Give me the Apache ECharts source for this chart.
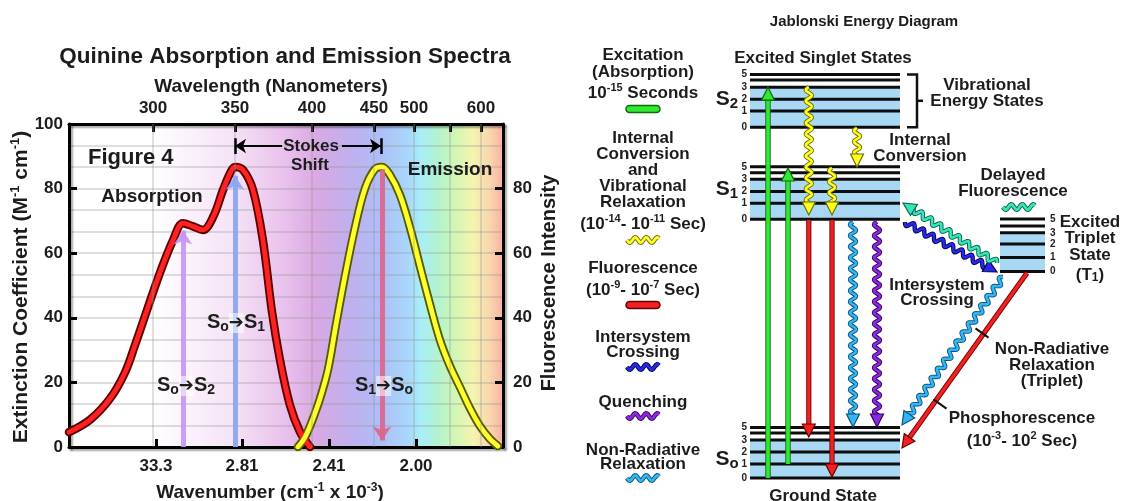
<!DOCTYPE html>
<html><head><meta charset="utf-8">
<script src="https://cdn.jsdelivr.net/npm/echarts@6/dist/echarts.min.js"></script>
<style>html,body{margin:0;padding:0;background:#fff}#c{width:1122px;height:501px}</style>
</head><body><div id="c"></div>
<script>
// ================= DATA =================
// Left chart: x = wavenumber (x10^3 cm^-1), y = extinction / fluorescence
const absorptionWn = [37.75,36.68,35.65,34.89,34.37,33.76,33.10,32.43,31.92,31.41,30.90,30.38,29.87,29.51,29.26,28.85,28.34,27.83,27.37,26.96,26.45,25.93,25.42];
const absorptionVal = [4.6,8.4,15,23,31.6,42.4,53.9,64,69.3,68.3,67.2,71.2,79.6,84.8,86.7,85.8,79.6,64,42,27,13,4.6,0];
const emissionWn = [26.04,25.68,25.32,24.91,24.50,24.09,23.63,23.12,22.61,22.10,21.74,21.33,20.82,20.31,19.80,19.28,18.77,18.26,17.75,17.24,16.73,16.22,15.81];
const emissionVal = [0,3,8,15,24,38,53,68,80,86,86.7,84.2,78,68,56,44,33,25,18.5,12,6.5,2.5,0.3];
const bottomTickValues = [33.3, 28.9, 24.45, 20.0];
const bottomTickLabels = ['33.3','2.81','2.41','2.00'];
const topTickValues = [33.45, 29.26, 25.32, 22.15, 20.10, 18.26, 16.68];
const topTickLabels = ['300','350','400','450','500','','600'];
const transitionArrows = [[31.92, 0, 67], [29.26, 0, 84], [21.74, 86, 2]]; // [wn, from, to]
const stokesShift = [29.26, 21.79];
// Jablonski diagram: x = lane (0-100), y = energy (arbitrary units)
const vibLabels = ['0','1','2','3','','5'];
const s0Levels = [0,3.5,6.5,9.5,11.25,12.6];
const s1Levels = [64.7,68.7,71.6,74.7,76.3,77.8];
const s2Levels = [87.7,91.75,94.7,97.7,99.5,100.9];
const t1Levels = [51.6,55.1,58.5,61.3,63,64.75];
const absorptionJ = [[12,0,12,97.7],[17,3.5,17,77.5]];
const vibRelaxJ = [[22.2,97.7,22.2,65.75],[28,77.5,28,65.75],[34.25,87.5,34.25,77.75]];
const fluorescenceJ = [[22.2,64.5,22.2,10.25],[28,64.5,28,0.25]];
const nonRadiativeJ = [[33.25,64,33.25,12.75],[70.75,50.25,45.5,13.25]];
const quenchingJ = [[39.25,64,39.25,12.75]];
const iscJ = [[46.25,64,69.25,51.5]];
const delayedFluorJ = [[69.25,53.75,45.75,68.75]];
const phosphorescenceJ = [[76.75,51.25,45.5,7.5]];

// ================= HELPERS =================
const FF = '"Liberation Sans", Arial, Helvetica, sans-serif';
const TXT = '#1c1c1c';
function nearestLabel(vals, labels, v){let bi=0,bd=1e9;vals.forEach((t,i)=>{const d=Math.abs(t-v);if(d<bd){bd=d;bi=i;}});return labels[bi];}
function richSet(size){
  const s=Math.round(size*0.62);
  return {
    n:{fontSize:size,fontWeight:'bold',fontFamily:FF,fill:TXT,lineHeight:size+2,verticalAlign:'bottom'},
    sup:{fontSize:s,fontWeight:'bold',fontFamily:FF,fill:TXT,lineHeight:s,verticalAlign:'top'},
    S:{fontSize:size,fontWeight:'bold',fontFamily:FF,fill:TXT,lineHeight:size+2,verticalAlign:'top'},
    sub:{fontSize:Math.round(size*0.72),fontWeight:'bold',fontFamily:FF,fill:TXT,lineHeight:Math.round(size*0.5),verticalAlign:'bottom'},
    ar:{fontSize:Math.round(size*0.9),fontWeight:'bold',fontFamily:'"DejaVu Sans", sans-serif',fill:TXT,lineHeight:size,verticalAlign:'middle',backgroundColor:'rgba(255,255,255,0.55)',padding:[1,0,1,0]}
  };
}
function T(text,x,y,size,opt){
  opt=opt||{};
  const el={type:'text',x,y,z:100,silent:true,rotation:opt.rotation||0,
    style:{text,font:`bold ${size}px ${FF}`,fill:TXT,align:opt.align||'center',verticalAlign:'middle'}};
  if(opt.rich) el.style.rich=richSet(size);
  return el;
}
function wavePts(x0,y0,x1,y1,amp,wl){
  const dx=x1-x0,dy=y1-y0,L=Math.hypot(dx,dy),ux=dx/L,uy=dy/L,nx=-uy,ny=ux,pts=[];
  for(let s=0;s<=L;s+=1){const o=amp*Math.sin(2*Math.PI*s/wl);pts.push([x0+ux*s+nx*o,y0+uy*s+ny*o]);}
  return pts;
}
function arrowShape(p0,p1,color,dark,wavy,w){
  const dx=p1[0]-p0[0],dy=p1[1]-p0[1],L=Math.hypot(dx,dy),ux=dx/L,uy=dy/L,nx=-uy,ny=ux;
  const hl=13,hw=6.5,bl=L-hl+2;
  const bx=p0[0]+ux*bl,by=p0[1]+uy*bl;
  const pts=wavy?wavePts(p0[0],p0[1],bx,by,3,11):[[p0[0],p0[1]],[bx,by]];
  const hb=[p0[0]+ux*(L-hl),p0[1]+uy*(L-hl)];
  return [
    {type:'polyline',shape:{points:pts},style:{stroke:dark,lineWidth:w+1.8,fill:null,lineJoin:'round'}},
    {type:'polyline',shape:{points:pts},style:{stroke:color,lineWidth:w,fill:null,lineJoin:'round'}},
    {type:'polygon',shape:{points:[[p1[0],p1[1]],[hb[0]+nx*hw,hb[1]+ny*hw],[hb[0]-nx*hw,hb[1]-ny*hw]]},style:{fill:color,stroke:dark,lineWidth:1.2}}
  ];
}
function iconWave(cx,cy,color,dark){
  const pts=wavePts(cx-16,cy,cx+16,cy,2.6,11);
  return {type:'group',z:100,silent:true,children:[
    {type:'polyline',shape:{points:pts},style:{stroke:dark,lineWidth:4.6,fill:null}},
    {type:'polyline',shape:{points:pts},style:{stroke:color,lineWidth:2.8,fill:null}}]};
}
function iconBar(cx,cy,color,dark){
  return {type:'rect',z:100,silent:true,shape:{x:cx-17,y:cy-3.5,width:34,height:7,r:3.5},style:{fill:color,stroke:dark,lineWidth:1.5}};
}

const states=[
  {levels:s2Levels,x0:7.5,x1:45,side:'left',bracket:true},
  {levels:s1Levels,x0:7.5,x1:45,side:'left'},
  {levels:s0Levels,x0:7.5,x1:45,side:'left'},
  {levels:t1Levels,x0:70,x1:81.25,side:'right'}
];
const kinds=[
  {data:absorptionJ,color:'#33e833',dark:'#0b6b0b',wavy:false,w:3.6},
  {data:vibRelaxJ,color:'#ffff22',dark:'#6e6e00',wavy:true,w:2.6},
  {data:fluorescenceJ,color:'#f22020',dark:'#6a0000',wavy:false,w:3.4},
  {data:nonRadiativeJ,color:'#33b6f2',dark:'#0d4f7a',wavy:true,w:2.6},
  {data:quenchingJ,color:'#8a2be2',dark:'#33005e',wavy:true,w:2.6},
  {data:iscJ,color:'#2828e8',dark:'#000050',wavy:true,w:2.6},
  {data:delayedFluorJ,color:'#33e8b8',dark:'#0c5e48',wavy:true,w:2.6},
  {data:phosphorescenceJ,color:'#f22020',dark:'#6a0000',wavy:false,w:3.4}
];

const axisLineStyle={color:'#000',width:3,shadowColor:'rgba(0,0,0,0.35)',shadowOffsetX:2,shadowOffsetY:2,shadowBlur:2};
const tickStyle={show:true,inside:true,length:8,lineStyle:{color:'#000',width:3}};
const gridLine={color:'rgba(150,150,150,0.3)',width:2};
const labelStyle={color:TXT,fontSize:17,fontWeight:'bold',fontFamily:FF};

// ================= SERIES =================
const series=[];
series.push({type:'line',xAxisIndex:0,yAxisIndex:0,data:[],z:1,silent:true,
  markLine:{silent:true,symbol:'none',animation:false,label:{show:false},lineStyle:Object.assign({type:'solid'},gridLine),
    data:topTickValues.map(v=>({xAxis:v}))}});
const arrowColors=['rgba(196,150,246,0.9)','rgba(140,168,242,0.95)','rgba(222,100,140,0.9)'];
const mlData=transitionArrows.map((a,i)=>[
  {coord:[a[0],a[1]],symbol:'none',lineStyle:{color:arrowColors[i],width:5,type:'solid'}},
  {coord:[a[0],a[2]],symbol:'arrow',symbolSize:14}]);
const sy=93.2;
mlData.push([{coord:[stokesShift[0],sy],symbol:'arrow',symbolSize:11,lineStyle:{color:'#000',width:2,type:'solid'}},{coord:[26.85,sy],symbol:'none'}]);
mlData.push([{coord:[23.79,sy],symbol:'none',lineStyle:{color:'#000',width:2,type:'solid'}},{coord:[stokesShift[1],sy],symbol:'arrow',symbolSize:11}]);
stokesShift.forEach(v=>mlData.push([{coord:[v,90.7],symbol:'none',lineStyle:{color:'#000',width:2.5,type:'solid'}},{coord:[v,95.6],symbol:'none'}]));
series.push({type:'line',xAxisIndex:0,yAxisIndex:0,data:[],z:2,silent:true,
  markLine:{silent:true,animation:false,label:{show:false},data:mlData}});
function curve(wn,val,color,width,z){
  return {type:'line',xAxisIndex:0,yAxisIndex:0,data:wn.map((x,i)=>[x,val[i]]),smooth:0.35,showSymbol:false,silent:true,z,
    lineStyle:{color,width,cap:'round',join:'round'}};
}
series.push(curve(absorptionWn,absorptionVal,'#5e0000',8.5,3));
series.push(curve(absorptionWn,absorptionVal,'#ff2222',4.8,4));
series.push(curve(emissionWn,emissionVal,'#5a5a00',8.5,3));
series.push(curve(emissionWn,emissionVal,'#ffff2e',4.8,4));

// Jablonski levels
series.push({type:'custom',xAxisIndex:2,yAxisIndex:2,coordinateSystem:'cartesian2d',clip:false,silent:true,z:5,
  data:states.map(s=>[s.x0,s.levels[0]]),
  renderItem:function(params,api){
    const st=states[params.dataIndex],ch=[];
    const a=api.coord([st.x0,st.levels[0]]),b=api.coord([st.x1,st.levels[3]]);
    ch.push({type:'rect',shape:{x:a[0],y:b[1],width:b[0]-a[0],height:a[1]-b[1]},style:{fill:'#a8d8f4'}});
    st.levels.forEach((e,i)=>{
      const p=api.coord([st.x0,e]),q=api.coord([st.x1,e]);
      ch.push({type:'line',shape:{x1:p[0],y1:p[1],x2:q[0],y2:q[1]},style:{stroke:'#0d0d0d',lineWidth:3}});
      if(vibLabels[i]) ch.push({type:'text',x:st.side==='left'?p[0]-3:q[0]+5,y:p[1],
        style:{text:vibLabels[i],font:`bold 10px ${FF}`,fill:'#222',align:st.side==='left'?'right':'left',verticalAlign:'middle'}});
    });
    if(st.bracket){
      const t=api.coord([st.x1,st.levels[5]]),bt=api.coord([st.x1,st.levels[0]]);
      const xb=t[0]+17,mid=(t[1]+bt[1])/2;
      ch.push({type:'polyline',shape:{points:[[t[0]+7,t[1]],[xb,t[1]],[xb,bt[1]],[t[0]+7,bt[1]]]},style:{stroke:'#111',lineWidth:2.5,fill:null}});
      ch.push({type:'line',shape:{x1:xb,y1:mid,x2:xb+6,y2:mid},style:{stroke:'#111',lineWidth:2.5}});
    }
    return {type:'group',children:ch};
  }});
kinds.forEach((k,ki)=>{
  series.push({type:'custom',xAxisIndex:2,yAxisIndex:2,coordinateSystem:'cartesian2d',clip:false,silent:true,z:6,
    encode:{x:[0,2],y:[1,3]},data:k.data,
    renderItem:function(params,api){
      const p0=api.coord([api.value(0),api.value(1)]),p1=api.coord([api.value(2),api.value(3)]);
      return {type:'group',children:arrowShape(p0,p1,k.color,k.dark,k.wavy,k.w)};
    }});
});

// ================= GRAPHIC TEXT =================
const g=[];
g.push(T('Quinine Absorption and Emission Spectra',285,57,22.5));
g.push(T('Wavelength (Nanometers)',271,87,19));
g.push(T('{n|Wavenumber (cm}{sup|-1}{n| x 10}{sup|-3}{n|)}',270,492,19,{rich:true}));
g.push(T('{n|Extinction Coefficient (M}{sup|-1}{n| cm}{sup|-1}{n|)}',20,287,21,{rich:true,rotation:Math.PI/2}));
g.push(T('Fluorescence Intensity',549,283,20,{rotation:Math.PI/2}));
g.push(T('Figure 4',88,158,22,{align:'left'}));
g.push(T('Absorption',152,197,19));
g.push(T('Emission',450,170,19));
g.push(T('Stokes',311,146,17));
g.push(T('Shift',310,165,17));
g.push(T('{S|S}{sub|o}{ar|➔}{S|S}{sub|2}',186,386,20,{rich:true}));
g.push(T('{S|S}{sub|o}{ar|➔}{S|S}{sub|1}',236,323,20,{rich:true}));
g.push(T('{S|S}{sub|1}{ar|➔}{S|S}{sub|o}',384,386,20,{rich:true}));
// Jablonski texts
g.push(T('Jablonski Energy Diagram',864,22,15));
g.push(T('Excited Singlet States',823,58,17));
g.push(T('{S|S}{sub|2}',727,100,21,{rich:true}));
g.push(T('{S|S}{sub|1}',727,190,21,{rich:true}));
g.push(T('{S|S}{sub|o}',727,460,21,{rich:true}));
g.push(T('Vibrational',987,85,17));
g.push(T('Energy States',987,101,17));
g.push(T('Internal',920,140,17));
g.push(T('Conversion',920,156,17));
g.push(T('Delayed',1013,175,17));
g.push(T('Fluorescence',1013,191,17));
g.push(iconWave(1019,207,'#33e8b8','#0c5e48'));
g.push(T('Excited',1090,222,17));
g.push(T('Triplet',1090,238,17));
g.push(T('State',1090,255,17));
g.push(T('{n|(T}{sub|1}{n|)}',1090,274,17,{rich:true}));
g.push(T('Intersystem',937,285,17));
g.push(T('Crossing',937,300,17));
g.push(T('Non-Radiative',1052,349,17));
g.push(T('Relaxation',1052,365,17));
g.push(T('(Triplet)',1052,381,17));
g.push(T('Phosphorescence',1022,418,17));
g.push(T('{n|(10}{sup|-3}{n|- 10}{sup|2}{n| Sec)}',1022,440,17,{rich:true}));
g.push(T('Ground State',823,496,17));
g.push({type:'line',z:100,silent:true,shape:{x1:975.5,y1:328.4,x2:988.5,y2:337.6},style:{stroke:'#111',lineWidth:2}});
g.push({type:'line',z:100,silent:true,shape:{x1:933.5,y1:399.4,x2:946.5,y2:408.6},style:{stroke:'#111',lineWidth:2}});
// legend column
const LX=643;
g.push(T('Excitation',LX,55,17));
g.push(T('(Absorption)',LX,72,17));
g.push(T('{n|10}{sup|-15}{n| Seconds}',LX,92,17,{rich:true}));
g.push(iconBar(LX,109,'#33e833','#0b6b0b'));
['Internal','Conversion','and','Vibrational','Relaxation'].forEach((s,i)=>g.push(T(s,LX,138+16*i,17)));
g.push(T('{n|(10}{sup|-14}{n|- 10}{sup|-11}{n| Sec)}',LX,223,17,{rich:true}));
g.push(iconWave(LX,240,'#ffff22','#6e6e00'));
g.push(T('Fluorescence',LX,268,17));
g.push(T('{n|(10}{sup|-9}{n|- 10}{sup|-7}{n| Sec)}',LX,289,17,{rich:true}));
g.push(iconBar(LX,305,'#f22020','#6a0000'));
g.push(T('Intersystem',LX,337,17));
g.push(T('Crossing',LX,352,17));
g.push(iconWave(LX,367,'#2828e8','#000050'));
g.push(T('Quenching',LX,402,17));
g.push(iconWave(LX,416,'#8a2be2','#33005e'));
g.push(T('Non-Radiative',LX,450,17));
g.push(T('Relaxation',LX,464,17));
g.push(iconWave(LX,478,'#33b6f2','#0d4f7a'));

const option={
  animation:false,
  backgroundColor:'#ffffff',
  grid:[
    {left:69,top:124,width:434,height:323,show:true,borderWidth:0,
     backgroundColor:new echarts.graphic.LinearGradient(0,0,1,0,[
      {offset:0,color:'#ffffff'},{offset:0.19,color:'#ffffff'},{offset:0.38,color:'#f5e2f6'},
      {offset:0.50,color:'#e8c0ec'},{offset:0.57,color:'#d9a9e3'},{offset:0.65,color:'#bfb0ee'},
      {offset:0.72,color:'#aebff7'},{offset:0.78,color:'#a9d6fb'},{offset:0.81,color:'#a8eef7'},
      {offset:0.85,color:'#b3f3d0'},{offset:0.89,color:'#d2f6b4'},{offset:0.93,color:'#f4f5b0'},
      {offset:0.97,color:'#f9d6ae'},{offset:1,color:'#f8b0a2'}])},
    {left:720,top:70,width:400,height:408,show:false}
  ],
  xAxis:[
    {gridIndex:0,type:'value',min:15.55,max:37.75,inverse:true,position:'bottom',
     axisLine:{show:true,onZero:false,lineStyle:axisLineStyle},
     axisTick:Object.assign({customValues:bottomTickValues},tickStyle),
     axisLabel:Object.assign({customValues:bottomTickValues,margin:11,formatter:v=>nearestLabel(bottomTickValues,bottomTickLabels,v)},labelStyle),
     splitLine:{show:false}},
    {gridIndex:0,type:'value',min:15.55,max:37.75,inverse:true,position:'top',
     axisLine:{show:true,onZero:false,lineStyle:axisLineStyle},
     axisTick:Object.assign({customValues:topTickValues},tickStyle),
     axisLabel:Object.assign({customValues:topTickValues,margin:7,formatter:v=>nearestLabel(topTickValues,topTickLabels,v)},labelStyle),
     splitLine:{show:false}},
    {gridIndex:1,type:'value',min:0,max:100,show:false}
  ],
  yAxis:[
    {gridIndex:0,type:'value',min:0,max:100,interval:20,position:'left',
     axisLine:{show:true,onZero:false,lineStyle:axisLineStyle},axisTick:tickStyle,
     axisLabel:Object.assign({margin:6},labelStyle),
     splitLine:{show:true,lineStyle:gridLine},minorTick:{show:false,splitNumber:3},
     minorSplitLine:{show:true,lineStyle:gridLine}},
    {gridIndex:0,type:'value',min:0,max:100,interval:20,position:'right',
     axisLine:{show:true,onZero:false,lineStyle:axisLineStyle},axisTick:tickStyle,
     axisLabel:Object.assign({margin:10,formatter:v=>v===100?'':String(v)},labelStyle),
     splitLine:{show:false}},
    {gridIndex:1,type:'value',min:0,max:102,show:false}
  ],
  series,
  graphic:g
};
const chart=echarts.init(document.getElementById('c'),null,{renderer:'canvas'});
chart.setOption(option);
</script></body></html>
